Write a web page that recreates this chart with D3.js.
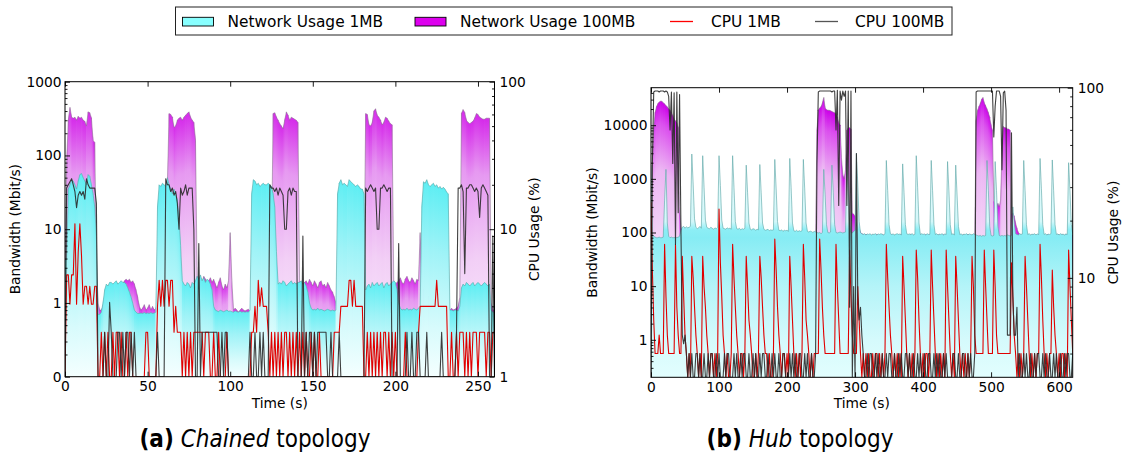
<!DOCTYPE html>
<html>
<head>
<meta charset="utf-8">
<script src="https://cdn.jsdelivr.net/npm/d3@7"></script>
<style>
  html, body { margin: 0; padding: 0; background: #fff; }
  svg { display: block; font-family: "DejaVu Sans", sans-serif; }
</style>
</head>
<body>
<svg id="fig" width="1125" height="456"></svg>
<script>
// ---------------------------------------------------------------
// Measurements: network bandwidth (Mbit/s) and CPU usage (%)
// ---------------------------------------------------------------

// seconds between consecutive samples
const chainedStep = 1;
const hubStep = 2;

// (a) Chained topology, one sample per second, t = 0..260 s
const chainedNet1MB = [
  3.8, 4, 35, 40, 47, 45, 40, 35, 45, 55,
  57, 50, 45, 40, 55, 52, 40, 30, 20, 8,
  0.7, 0.7, 0.75, 1.0, 1.5, 1.8, 1.7, 1.9, 1.9, 1.8,
  1.9, 2.0, 1.8, 1.9, 2.0, 1.9, 1.9, 1.8, 1.6, 1.4,
  1.2, 1.0, 0.8, 0.75, 0.72, 0.72, 0.73, 0.72, 0.74, 0.72,
  0.73, 0.72, 0.74, 0.72, 0.73, 0.75, 20, 40, 38, 42,
  40, 38, 50, 40, 35, 30, 35, 30, 25, 15,
  6, 2, 1.8, 1.7, 1.9, 1.8, 1.6, 1.9, 1.8, 2.0,
  2.3, 2.1, 2.4, 2.0, 2.2, 1.9, 2.1, 2.0, 1.8, 1.5,
  0.9, 0.8, 0.78, 0.76, 0.8, 0.78, 0.76, 0.78, 0.8, 0.77,
  0.78, 0.76, 0.75, 0.78, 0.76, 0.75, 0.77, 0.75, 0.76, 0.75,
  0.76, 0.75, 0.8, 30, 47, 45, 40, 42, 38, 40,
  42, 40, 40, 42, 40, 38, 30, 20, 5, 1.8,
  1.9, 1.8, 2.0, 1.9, 1.7, 1.8, 1.9, 2.0, 1.8, 1.9,
  1.8, 1.9, 1.9, 2.0, 1.8, 1.9, 1.7, 1.4, 1.0, 0.85,
  0.8, 0.82, 0.8, 0.85, 0.8, 0.82, 0.8, 0.78, 0.8, 0.82,
  0.8, 0.78, 0.8, 0.78, 0.8, 30, 42, 47, 40, 42,
  40, 38, 47, 44, 42, 40, 38, 40, 38, 35,
  35, 30, 1.5, 1.7, 1.8, 1.6, 1.9, 1.7, 1.8, 1.9,
  1.7, 1.8, 1.9, 1.6, 1.8, 1.9, 1.7, 1.8, 1.9, 2.0,
  1.9, 1.5, 1.0, 0.85, 0.8, 0.82, 0.8, 0.85, 0.8, 0.82,
  0.8, 0.85, 0.82, 0.8, 0.85, 0.9, 20, 44, 42, 47,
  40, 38, 40, 42, 38, 40, 36, 38, 35, 37,
  35, 32, 30, 0.8, 0.8, 0.78, 0.8, 0.8, 0.78, 0.9,
  1.6, 1.8, 1.7, 1.9, 1.8, 1.7, 1.8, 1.9, 1.7, 1.8,
  1.9, 1.8, 1.7, 1.8, 1.9, 1.8, 1.7, 1.8, 0.8, 0.75,
  0.75
];

const chainedNet100MB = [
  2, 80, 300, 450, 330, 320, 330, 300, 340, 320,
  330, 300, 290, 250, 390, 380, 320, 160, 150, 4,
  1.0, 0.8, 0.8, 0.9, 1.2, 1.4, 1.5, 1.4, 1.5, 1.6,
  1.5, 1.6, 1.5, 1.6, 1.7, 1.8, 2.0, 2.1, 2.0, 2.1,
  1.9, 2.0, 1.8, 1.5, 1.2, 0.9, 0.8, 0.85, 0.95, 0.8,
  0.85, 0.95, 0.8, 0.9, 0.8, 0.85, 1.0, 1.2, 1.5, 1.6,
  1.8, 2.0, 40, 370, 360, 330, 240, 250, 300, 320,
  330, 300, 330, 350, 370, 390, 330, 300, 280, 160,
  2.3, 2.0, 2.2, 1.9, 2.3, 2.1, 1.8, 2.0, 2.2, 1.9,
  2.1, 1.8, 1.6, 1.9, 2.2, 1.7, 1.5, 1.8, 1.6, 2.0,
  9, 2, 0.8, 0.85, 0.8, 0.75, 0.8, 0.85, 0.8, 0.78,
  0.8, 0.82, 0.78, 0.8, 0.85, 0.8, 0.82, 0.8, 0.78, 0.8,
  0.85, 0.8, 0.82, 0.9, 1.2, 5, 370, 380, 330, 300,
  270, 250, 230, 300, 390, 350, 300, 330, 320, 310,
  300, 280, 2.0, 1.8, 1.7, 1.9, 2.0, 1.8, 2.1, 1.9,
  1.7, 2.0, 1.8, 1.6, 1.9, 2.0, 1.7, 1.8, 1.6, 1.9,
  1.7, 1.5, 1.4, 1.2, 1.0, 0.9, 0.9, 1.0, 1.1, 1.2,
  1.3, 1.2, 1.4, 1.3, 1.2, 1.4, 1.3, 1.2, 1.3, 1.4,
  1.5, 2, 370, 360, 260, 250, 280, 400, 430, 350,
  330, 300, 260, 280, 330, 320, 290, 270, 260, 2,
  1.8, 1.9, 2.0, 2.2, 1.9, 1.8, 2.1, 2.3, 2.0, 1.9,
  2.2, 2.0, 1.8, 2.1, 2.0, 9, 1.8, 1.5, 1.4, 1.3,
  1.2, 1.3, 1.2, 1.1, 1.2, 1.3, 1.2, 1.1, 1.2, 1.1,
  1.0, 0.9, 0.85, 0.8, 0.85, 0.8, 0.82, 0.85, 0.9, 1.2,
  370, 420, 380, 300, 280, 270, 280, 290, 320, 370,
  360, 330, 320, 310, 310, 320, 320, 320, 1.0, 0.8,
  0.8
];

const chainedCpu1MB = [
  1, 4.9, 4.9, 3.1, 4.9, 4.9, 10.9, 3.1, 7, 10.9,
  6.6, 3.1, 4.1, 4.1, 3.1, 4.1, 3.1, 3.1, 4.1, 4.1,
  1, 1, 2, 1, 2, 1, 2, 1, 1, 2,
  1, 2, 2, 1, 2, 1, 1, 2, 1, 2,
  2, 1, 1, 1, 1, 1, 1, 1, 1, 2,
  2, 1, 1, 1, 1, 1, 3, 4.5, 3, 4.5,
  3, 4.5, 4.5, 3, 4.5, 4.5, 2, 3, 2, 2,
  2, 1, 2, 1, 2, 1, 2, 1, 2, 2,
  2, 2, 2, 2, 1, 2, 2, 2, 1, 1,
  2, 1, 1, 2, 1, 1, 1, 1, 2, 1,
  1, 1, 1, 1, 1, 1, 1, 1, 1, 1,
  1, 1, 1, 2, 2, 3, 2, 4.5, 3, 4,
  3, 3, 3, 2, 1, 2, 1, 2, 1, 2,
  1, 2, 1, 2, 2, 1, 2, 1, 2, 1,
  2, 1, 2, 1, 2, 1, 2, 1, 1, 2,
  1, 2, 1, 1, 2, 1, 1, 1, 1, 1,
  1, 1, 1, 2, 2, 2, 2, 3, 3, 3,
  3, 3, 4.5, 4.5, 3, 4.5, 3, 3, 3, 3,
  3, 1, 1, 2, 1, 2, 1, 2, 1, 2,
  1, 2, 1, 2, 2, 1, 2, 1, 2, 1,
  2, 1, 1, 1, 1, 1, 2, 1, 1, 1,
  1, 1, 1, 1, 2, 3, 3, 3, 3, 3,
  3, 3, 3, 3, 3, 4.5, 3, 3, 3, 3,
  3, 3, 1, 1, 2, 1, 1, 2, 1, 2,
  2, 2, 1, 2, 1, 2, 1, 2, 2, 2,
  1, 2, 2, 2, 2, 1, 2, 2, 1, 2,
  2
];

const chainedCpu100MB = [
  1, 19, 20, 21, 22, 20, 18, 14, 17, 18,
  17, 18, 16, 22, 20, 19, 19, 19, 19, 15,
  1, 1, 1, 1, 2, 1, 1, 3.2, 2, 1,
  1, 1, 2, 2, 1, 2, 1, 2, 2, 1,
  2, 1, 2, 1, 1, 1, 1, 1, 1, 1,
  1, 1, 1, 1, 1, 1, 2, 1, 1, 1,
  1, 22, 20, 20, 18, 19, 17, 18, 15, 10,
  19, 17, 18, 20, 17, 19, 19, 19, 10, 1,
  1, 8, 1, 2, 2, 2, 2, 2, 2, 2,
  2, 2, 2, 1, 1, 2, 1, 2, 2, 1,
  1, 1, 1, 1, 1, 1, 1, 1, 1, 1,
  1, 1, 2, 1, 1, 2, 1, 1, 2, 1,
  2, 1, 1, 1, 20, 19, 19, 18, 19, 17,
  19, 18, 17, 10, 10, 18, 19, 17, 19, 18,
  18, 1, 1, 1, 9, 1, 2, 1, 2, 2,
  1, 2, 1, 2, 2, 2, 2, 2, 2, 1,
  1, 2, 1, 1, 1, 1, 2, 1, 1, 1,
  1, 1, 1, 1, 1, 1, 1, 1, 1, 1,
  1, 1, 19, 18, 19, 20, 19, 18, 19, 10,
  10, 19, 19, 20, 19, 18, 19, 19, 1, 1,
  1, 1, 8, 1, 1, 1, 1, 2, 1, 1,
  2, 1, 1, 2, 2, 1, 1, 1, 1, 2,
  1, 1, 1, 1, 1, 1, 1, 1, 2, 1,
  1, 1, 1, 1, 1, 1, 1, 2, 19, 19,
  20, 18, 5, 19, 19, 20, 20, 19, 18, 19,
  18, 12, 19, 20, 19, 18, 17, 1, 1, 9,
  1
];

// (b) Hub topology, one sample every two seconds, t = 0..620 s
const hubNet1MB = [
  1800, 90, 85, 82, 80, 80, 82, 80, 80, 82,
  400, 1500, 150, 85, 80, 82, 80, 80, 82, 80,
  82, 85, 110, 125, 130, 120, 128, 122, 125, 130,
  2900, 800, 180, 125, 118, 122, 130, 120, 2700, 700,
  170, 125, 120, 118, 125, 120, 115, 122, 118, 125,
  2700, 750, 170, 120, 118, 115, 122, 118, 120, 115,
  2700, 700, 160, 118, 115, 120, 112, 118, 115, 120,
  1800, 550, 150, 115, 112, 118, 115, 110, 115, 112,
  1850, 550, 150, 115, 110, 112, 115, 108, 112, 110,
  112, 2300, 650, 160, 110, 108, 112, 105, 110, 108,
  110, 105, 2400, 700, 150, 108, 105, 110, 104, 108,
  105, 108, 2300, 650, 150, 105, 102, 106, 104, 100,
  105, 102, 100, 98, 100, 95, 100, 1500, 500, 140,
  100, 98, 102, 1800, 550, 140, 100, 98, 100, 102,
  100, 98, 100, 102, 2300, 650, 150, 100, 98, 105,
  110, 3000, 800, 160, 100, 95, 92, 95, 90, 94,
  92, 95, 90, 93, 92, 95, 90, 94, 92, 95,
  93, 90, 95, 2200, 600, 140, 95, 92, 94, 90,
  93, 95, 92, 94, 90, 1900, 550, 140, 95, 92,
  94, 92, 95, 90, 93, 2700, 700, 150, 92, 95,
  92, 94, 90, 95, 92, 93, 2200, 600, 140, 92,
  95, 90, 93, 92, 95, 90, 94, 92, 2100, 600,
  140, 92, 95, 90, 1800, 500, 130, 92, 94, 90,
  93, 92, 95, 90, 94, 92, 90, 95, 92, 90,
  88, 86, 88, 85, 88, 86, 88, 2200, 600, 130,
  88, 86, 88, 2100, 600, 130, 88, 86, 88, 86,
  88, 86, 90, 88, 86, 88, 300, 150, 95, 92,
  90, 95, 92, 94, 2200, 600, 140, 92, 95, 90,
  93, 92, 95, 90, 94, 92, 2400, 650, 140, 92,
  95, 90, 93, 92, 95, 2250, 600, 140, 92, 94,
  90, 95, 92, 93, 90, 94, 92, 2000, 600, 140,
  95
];

const hubNet100MB = [
  85, 2000, 9000, 17000, 22000, 25000, 27000, 28000, 28000, 26000,
  25000, 23000, 22000, 20000, 19000, 17000, 15000, 13000, 12000, 11000,
  9000, 300, 120, 110, 115, 100, 95, 90, 92, 90,
  88, 90, 92, 88, 90, 91, 89, 90, 88, 92,
  90, 89, 91, 88, 90, 92, 89, 90, 91, 88,
  90, 92, 88, 90, 89, 91, 90, 88, 92, 90,
  89, 90, 91, 88, 90, 92, 90, 89, 88, 91,
  90, 88, 92, 90, 89, 91, 88, 90, 92, 89,
  91, 90, 88, 92, 90, 89, 90, 91, 88, 90,
  92, 89, 90, 88, 91, 90, 92, 88, 90, 89,
  90, 91, 88, 90, 92, 89, 90, 88, 91, 90,
  88, 90, 92, 89, 90, 91, 88, 90, 89, 92,
  90, 95, 8000, 19000, 21000, 22000, 26000, 33000, 21000, 19500,
  19000, 19000, 18500, 18000, 17500, 17000, 16000, 14000, 11000, 10000,
  2500, 1200, 1000, 1500, 8000, 9000, 9000, 8500, 230, 220,
  200, 180, 150, 120, 100, 95, 92, 90, 92, 90,
  88, 90, 89, 91, 88, 90, 92, 89, 90, 88,
  91, 90, 88, 92, 90, 89, 90, 91, 88, 90,
  89, 91, 90, 88, 92, 90, 89, 90, 91, 88,
  90, 92, 89, 90, 88, 91, 90, 89, 92, 90,
  88, 90, 91, 89, 90, 92, 88, 90, 89, 91,
  90, 89, 92, 88, 90, 91, 89, 90, 88, 92,
  89, 90, 88, 91, 90, 89, 92, 90, 88, 90,
  91, 88, 90, 92, 89, 90, 88, 91, 90, 12000,
  18500, 22000, 25000, 30000, 33000, 26000, 23000, 20000, 17000, 14000,
  10000, 8000, 400, 300, 300, 350, 300, 400, 3000, 9500,
  9000, 9000, 8500, 8500, 8000, 220, 230, 200, 150, 120,
  100, 92, 90, 88, 91, 90, 89, 92, 88, 90,
  90, 91, 88, 90, 89, 92, 90, 88, 91, 90,
  89, 90, 92, 88, 90, 91, 89, 90, 88, 92,
  90, 88, 91, 90, 89, 92, 90, 88, 90, 91,
  90
];

const hubCpu1MB = [
  25, 11, 6, 4, 4, 4, 5, 4, 4, 4,
  15, 8, 5, 4, 4, 4, 4, 4, 15, 7,
  5, 4, 4, 13, 8, 5, 4, 3, 4, 3,
  13, 10, 7, 5, 4, 3, 4, 3, 13, 9,
  7, 5, 4, 3, 4, 4, 3, 4, 3, 4,
  23, 12, 8, 5, 4, 3, 4, 3, 3, 4,
  15, 10, 7, 5, 4, 3, 4, 4, 3, 4,
  13, 9, 6, 5, 4, 3, 3, 4, 3, 4,
  13, 10, 7, 5, 4, 4, 3, 4, 3, 3,
  4, 16, 11, 7, 5, 4, 3, 4, 4, 3,
  4, 3, 13, 9, 6, 4, 3, 4, 3, 4,
  3, 4, 15, 10, 6, 5, 4, 3, 4, 3,
  4, 4, 4, 4, 16, 11, 7, 5, 4, 4,
  4, 4, 4, 4, 4, 4, 15, 9, 6, 4,
  4, 4, 4, 4, 4, 4, 14, 8, 5, 4,
  4, 4, 9, 6, 4, 3, 4, 3, 4, 3,
  4, 3, 3, 4, 3, 4, 4, 3, 4, 3,
  4, 3, 4, 15, 10, 7, 5, 4, 3, 4,
  3, 4, 3, 4, 3, 13, 9, 6, 4, 3,
  4, 3, 4, 3, 4, 14, 10, 6, 4, 3,
  4, 3, 4, 4, 3, 4, 14, 9, 6, 4,
  3, 4, 3, 4, 3, 4, 3, 14, 9, 6,
  4, 3, 4, 3, 13, 9, 6, 4, 3, 4,
  3, 4, 3, 4, 3, 4, 13, 9, 5, 4,
  4, 4, 4, 4, 4, 14, 9, 6, 4, 4,
  4, 4, 14, 9, 5, 4, 4, 4, 4, 4,
  4, 4, 4, 4, 4, 12, 8, 5, 4, 3,
  4, 3, 4, 3, 4, 13, 9, 6, 4, 3,
  4, 3, 4, 3, 4, 4, 15, 10, 6, 4,
  3, 4, 3, 4, 4, 11, 7, 5, 4, 3,
  4, 3, 4, 4, 3, 4, 3, 14, 9, 6,
  4
];

const hubCpu100MB = [
  3, 40, 95, 96, 96, 96, 95, 96, 96, 96,
  95, 96, 95, 90, 60, 95, 40, 94, 15, 95,
  22, 92, 18, 5, 4.5, 5, 4, 3, 4, 3,
  4, 3, 3, 4, 4, 3, 4, 3, 3, 4,
  3, 3, 4, 3, 4, 4, 3, 3, 4, 3,
  4, 3, 3, 3, 4, 3, 4, 4, 3, 3,
  3, 4, 3, 4, 3, 3, 4, 3, 4, 4,
  3, 3, 4, 3, 3, 4, 3, 4, 3, 3,
  4, 3, 4, 4, 3, 3, 4, 3, 3, 4,
  3, 4, 3, 3, 4, 3, 3, 4, 4, 3,
  3, 3, 4, 3, 4, 3, 4, 3, 3, 4,
  4, 3, 3, 4, 3, 4, 3, 3, 4, 3,
  3, 4, 40, 95, 96, 96, 96, 96, 96, 96,
  96, 96, 96, 95, 96, 96, 60, 97, 24, 96,
  86, 96, 90, 96, 24, 96, 7, 96, 3, 9,
  3, 45, 8, 6, 7, 5, 4, 3, 3, 4,
  3, 4, 4, 3, 3, 4, 3, 4, 3, 3,
  4, 3, 3, 4, 3, 4, 4, 3, 3, 4,
  3, 3, 4, 3, 4, 3, 3, 4, 4, 3,
  4, 3, 3, 4, 3, 3, 4, 3, 4, 3,
  3, 4, 3, 3, 4, 4, 3, 3, 4, 3,
  4, 3, 4, 3, 3, 4, 3, 4, 3, 3,
  3, 3, 4, 4, 3, 3, 4, 3, 3, 4,
  4, 3, 3, 4, 3, 4, 3, 3, 4, 95,
  96, 96, 96, 96, 96, 96, 96, 96, 96, 96,
  96, 96, 55, 80, 96, 96, 96, 90, 37, 94,
  96, 76, 5, 5, 5, 58, 8, 5, 5, 7,
  3, 4, 3, 3, 4, 3, 4, 3, 3, 4,
  3, 3, 4, 3, 4, 4, 3, 3, 4, 3,
  4, 3, 3, 4, 3, 3, 4, 3, 4, 3,
  3, 4, 3, 3, 4, 3, 4, 4, 3, 3,
  4
];

// Tick values and labels
const chainedTimeTicks = [0, 50, 100, 150, 200, 250];
const chainedBwTicks = [0.1, 1, 10, 100, 1000];
const chainedBwLabels = ["0", "1", "10", "100", "1000"];
const chainedCpuTicks = [1, 10, 100];
const hubTimeTicks = [0, 100, 200, 300, 400, 500, 600];
const hubBwTicks = [1, 10, 100, 1000, 10000];
const hubCpuTicks = [10, 100];

const legendLabels = ["Network Usage 1MB", "Network Usage 100MB", "CPU 1MB", "CPU 100MB"];

// ---------------------------------------------------------------
const svg = d3.select("#fig");
svg.append("rect").attr("width", 1125).attr("height", 456).attr("fill", "#fff");
const defs = svg.append("defs");

function vGradient(id, stops, units) {
  const g = defs.append("linearGradient").attr("id", id)
    .attr("x1", 0).attr("x2", 0).attr("y1", 0).attr("y2", 1);
  if (units) g.attr("gradientUnits", "userSpaceOnUse")
    .attr("y1", units[0]).attr("y2", units[1]);
  stops.forEach(([o, c]) => g.append("stop").attr("offset", o).attr("stop-color", c));
  return g;
}

// column-wise shading (each column fades from its top down to the axis)
vGradient("colCyan", [[0, "#5eeef3"], [0.35, "#9ff3f7"], [0.75, "#d8fbfc"], [1, "#f4ffff"]]);
vGradient("colMagenta", [[0, "#d52aea"], [0.22, "#e699f1"], [0.55, "#f2cff6"], [1, "#fcf2fd"]]);
vGradient("colMagentaHub", [[0, "#cc00e8"], [0.08, "#db50ee"], [0.25, "#ecb6f3"], [0.5, "#f3d5f7"], [1, "#fbf0fc"]]);

function minorLog(domain) {
  const out = [];
  const lo = Math.floor(Math.log10(domain[0])), hi = Math.ceil(Math.log10(domain[1]));
  for (let e = lo; e <= hi; e++) {
    for (let m = 2; m <= 9; m++) {
      const v = m * Math.pow(10, e);
      if (v > domain[0] * 1.0001 && v < domain[1] * 0.9999) out.push(v);
    }
  }
  return out;
}

function styleAxis(sel) {
  sel.select(".domain").remove();
  sel.attr("font-family", "DejaVu Sans, sans-serif").attr("font-size", 13.8);
  sel.selectAll("line").attr("stroke", "#000").attr("stroke-width", 0.9);
  sel.selectAll("text").attr("fill", "#000");
}

function drawPanel(p) {
  const x = d3.scaleLinear().domain([0, p.tMax]).range([p.left, p.right]);
  const yBw = d3.scaleLog().domain(p.bwDomain).range([p.bottom, p.top]);
  const yCpu = d3.scaleLog().domain(p.cpuDomain).range([p.bottom, p.top]);
  const tOf = i => i * p.step;

  const clipId = "clip-" + p.id;
  defs.append("clipPath").attr("id", clipId).append("rect")
    .attr("x", p.left).attr("y", p.top)
    .attr("width", p.right - p.left).attr("height", p.bottom - p.top);

  const g = svg.append("g").attr("clip-path", `url(#${clipId})`);

  // column fill for one network series
  function columns(values, fill) {
    const pairs = d3.pairs(values.map((v, i) => [tOf(i), v]));
    g.append("g").selectAll("path").data(pairs).join("path")
      .attr("d", ([a, b]) => {
        const xa = x(a[0]) - 0.35, xb = x(b[0]) + 0.35;
        return `M${xa},${yBw(a[1])}L${xb},${yBw(b[1])}L${xb},${p.bottom}L${xa},${p.bottom}Z`;
      })
      .attr("fill", `url(#${fill})`);
  }
  const line = (yScale) => d3.line().x((d, i) => x(tOf(i))).y(d => yScale(d));
  const area = d3.area().x((d, i) => x(tOf(i))).y0(p.bottom).y1(d => yBw(d));

  // 100MB network usage
  columns(p.net100, p.magentaFill);
  g.append("path").datum(p.net100).attr("d", line(yBw))
    .attr("fill", "none").attr("stroke", "#8f7a93").attr("stroke-opacity", 0.75).attr("stroke-width", 0.8);

  // 1MB network usage
  if (p.cyanFill === "column") {
    columns(p.net1, "colCyan");
  } else {
    const gid = "cyanHub";
    const span = p.bottom - p.top;
    const off = v => (yBw(v) - p.top) / span;
    vGradient(gid, [
      [0, "#f2fdfd"], [off(3000), "#eefcfd"], [off(160), "#d3f8fa"], [off(112), "#8ceef5"],
      [off(80), "#86ecf4"], [off(10), "#b4f4f8"], [off(1), "#d5fafc"], [1, "#e2fefe"]
    ], [p.top, p.bottom]);
    g.append("path").datum(p.net1).attr("d", area).attr("fill", `url(#${gid})`);
  }
  g.append("path").datum(p.net1).attr("d", line(yBw))
    .attr("fill", "none").attr("stroke", "#5fa9a9").attr("stroke-opacity", 0.8).attr("stroke-width", 0.8);

  // CPU usage
  g.append("path").datum(p.cpu1).attr("d", line(yCpu))
    .attr("fill", "none").attr("stroke", "#e00000").attr("stroke-width", 1.1).attr("stroke-linejoin", "round");
  g.append("path").datum(p.cpu100).attr("d", line(yCpu))
    .attr("fill", "none").attr("stroke", "#2a2a2a").attr("stroke-opacity", 0.9).attr("stroke-width", 1.1).attr("stroke-linejoin", "round");

  // axes (ticks point inwards)
  svg.append("g").attr("transform", `translate(0,${p.bottom})`)
    .call(d3.axisBottom(x).tickValues(p.timeTicks).tickFormat(d3.format("d")).tickSize(-5).tickPadding(5))
    .call(styleAxis);
  svg.append("g").attr("transform", `translate(0,${p.top})`)
    .call(d3.axisTop(x).tickValues(p.timeTicks).tickFormat("").tickSize(-5))
    .call(styleAxis);
  svg.append("g").attr("transform", `translate(${p.left},0)`)
    .call(d3.axisLeft(yBw).tickValues(p.bwTicks).tickFormat((d, i) => p.bwLabels[i]).tickSize(-5).tickPadding(3.5))
    .call(styleAxis);
  svg.append("g").attr("transform", `translate(${p.left},0)`)
    .call(d3.axisLeft(yBw).tickValues(minorLog(p.bwDomain)).tickFormat("").tickSize(-2.5))
    .call(styleAxis);
  svg.append("g").attr("transform", `translate(${p.right},0)`)
    .call(d3.axisRight(yCpu).tickValues(p.cpuTicks).tickFormat(d3.format("d")).tickSize(-5).tickPadding(5))
    .call(styleAxis);
  svg.append("g").attr("transform", `translate(${p.right},0)`)
    .call(d3.axisRight(yCpu).tickValues(minorLog(p.cpuDomain)).tickFormat("").tickSize(-2.5))
    .call(styleAxis);

  // frame
  svg.append("rect").attr("x", p.left).attr("y", p.top)
    .attr("width", p.right - p.left).attr("height", p.bottom - p.top)
    .attr("fill", "none").attr("stroke", "#000").attr("stroke-width", 1);

  // axis titles
  const midY = (p.top + p.bottom) / 2;
  svg.append("text").attr("x", (p.left + p.right) / 2).attr("y", p.bottom + 31)
    .attr("text-anchor", "middle").attr("font-size", 13.8).text("Time (s)");
  svg.append("text").attr("transform", `translate(${p.bwLabelX},${midY}) rotate(-90)`)
    .attr("text-anchor", "middle").attr("dy", "0.35em").attr("font-size", 13.8).text("Bandwidth (Mbit/s)");
  svg.append("text").attr("transform", `translate(${p.cpuLabelX},${midY}) rotate(-90)`)
    .attr("text-anchor", "middle").attr("dy", "0.35em").attr("font-size", 13.8).text("CPU Usage (%)");

  // sub-caption
  const cap = svg.append("text").attr("x", p.captionX).attr("y", 447)
    .attr("text-anchor", "middle")
    .style("font-family", "'Liberation Sans Narrow', 'DejaVu Sans Condensed', 'Liberation Sans', sans-serif")
    .attr("font-size", 24);
  cap.append("tspan").attr("font-weight", "bold").text(p.captionTag);
  cap.append("tspan").text(" ");
  cap.append("tspan").attr("font-style", "italic").text(p.captionName);
  cap.append("tspan").text(" topology");
}

drawPanel({
  id: "chained", left: 65, right: 494.5, top: 81.7, bottom: 376.7,
  tMax: 260, step: chainedStep, bwDomain: [0.1, 1000], cpuDomain: [1, 100],
  net1: chainedNet1MB, net100: chainedNet100MB, cpu1: chainedCpu1MB, cpu100: chainedCpu100MB,
  timeTicks: chainedTimeTicks, bwTicks: chainedBwTicks, bwLabels: chainedBwLabels, cpuTicks: chainedCpuTicks,
  magentaFill: "colMagenta", cyanFill: "column",
  bwLabelX: 15, cpuLabelX: 534.5, captionX: 255, captionTag: "(a)", captionName: "Chained"
});

drawPanel({
  id: "hub", left: 651, right: 1072.7, top: 87.7, bottom: 377.3,
  tMax: 620, step: hubStep, bwDomain: [0.2, 50000], cpuDomain: [3, 100],
  net1: hubNet1MB, net100: hubNet100MB, cpu1: hubCpu1MB, cpu100: hubCpu100MB,
  timeTicks: hubTimeTicks, bwTicks: hubBwTicks, bwLabels: hubBwTicks.map(String), cpuTicks: hubCpuTicks,
  magentaFill: "colMagentaHub", cyanFill: "band",
  bwLabelX: 592, cpuLabelX: 1113, captionX: 800, captionTag: "(b)", captionName: "Hub"
});

// legend
const lg = svg.append("g").attr("font-size", 15.4);
lg.append("rect").attr("x", 175.5).attr("y", 7).attr("width", 776.5).attr("height", 28)
  .attr("fill", "#fff").attr("stroke", "#222").attr("stroke-width", 1);
const swatches = [
  { kind: "box", color: "#88ffff", x0: 182.5, tx: 227.5 },
  { kind: "box", color: "#dd00ee", x0: 415, tx: 460 },
  { kind: "line", color: "#ff0000", x0: 670, tx: 711 },
  { kind: "line", color: "#555555", x0: 815, tx: 855 }
];
swatches.forEach((s, i) => {
  if (s.kind === "box") {
    lg.append("rect").attr("x", s.x0).attr("y", 17.3).attr("width", 31).attr("height", 8.7)
      .attr("fill", s.color).attr("stroke", "#000").attr("stroke-width", 0.9);
  } else {
    lg.append("line").attr("x1", s.x0).attr("x2", s.x0 + 23).attr("y1", 21.5).attr("y2", 21.5)
      .attr("stroke", s.color).attr("stroke-width", 1.3);
  }
  lg.append("text").attr("x", s.tx).attr("y", 26.6).text(legendLabels[i]);
});
</script>
</body>
</html>
